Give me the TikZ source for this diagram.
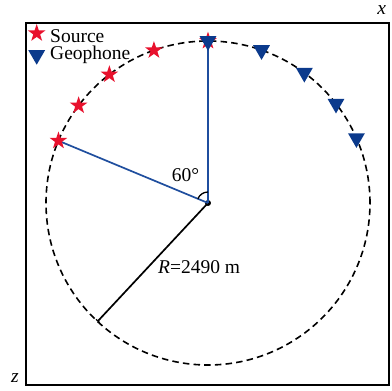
\documentclass[tikz,border=0pt]{standalone}
\usepackage{fontspec}
\setmainfont{Liberation Serif}
\usetikzlibrary{positioning,arrows.meta,shapes.geometric}
\definecolor{srcred}{HTML}{E8112D}
\definecolor{geoblue}{HTML}{0B3A8C}
\definecolor{rayblue}{HTML}{1F4E9E}

\begin{document}
\begin{tikzpicture}[x=1pt, y=1pt,
    every node/.style={font=\fontsize{19.5}{22}\selectfont, inner sep=0pt},
    src/.style={star, star points=5, star point ratio=2.55, fill=srcred, draw=none, minimum size=18.5pt},
    geo/.style={regular polygon, regular polygon sides=3, shape border rotate=180,
      fill=geoblue, draw=none, minimum size=19.5pt},
    ring/.style={dashed, dash pattern=on 6.5pt off 4.2pt, line width=1.6pt},
    ray/.style={rayblue, line width=1.7pt},
    frame/.style={line width=1.9pt},
    legtxt/.style={anchor=base west, text depth=1pt}
  ]

  \useasboundingbox (-208,-188) rectangle (184,203);

  % ---------- cadre et axes -------------
  \draw[frame] (-182,180.3) rectangle (181.3,-182);
  \node[anchor=base] (xlab) at (173.7,188) {\itshape x};
  \node[anchor=base] (zlab) at (-193,-180) {\itshape z};

  % ---------- cercle d'acquisition -------------
  \node[circle, fill=black, minimum size=6pt] (o) at (0,0) {};
  \draw[ring] (o.center) circle[radius=162pt];
  \coordinate (rend) at (227:162);
  \draw[line width=1.7pt, -{Bar[width=5pt, line width=1.2pt]}] (o.center) -- (rend);

  % positions des sources et geophones
  \foreach \a [count=\i] in {90,109.5,127.5,143,157.4}
    \coordinate (ps\i) at (\a:162);
  \foreach \a [count=\i] in {90,70.7,53.5,37.8,23.6}
    \coordinate (pg\i) at (\a:162);

  \draw[ray] (o.center) -- (ps1);
  \draw[ray] (o.center) -- (ps5);
  \draw[line width=1.3pt] (o.center) ++(90:11) arc[start angle=90, end angle=157.4, radius=11pt];
  \node[anchor=base west] (ang) at (-36.3,21.3) {60°};
  \node[anchor=base west] (rlab) at (-50,-70.3) {\textit{R}=2490 m};

  \foreach \i in {1,...,5}
    \node[src] (s\i) at (ps\i) {};
  \foreach \i in {1,...,5}
    \node[geo] (g\i) at (pg\i) {};

  % ---------- legende -------------
  \node[src] (keysrc) at (-171.3,169.7) {};
  \node[legtxt] (keysrctxt) at (-158,160.3) {Source};
  \node[geo] (keygeo) at (-171.3,148) {};
  \node[legtxt] (keygeotxt) at (-158,143) {Geophone};

\end{tikzpicture}
\end{document}
